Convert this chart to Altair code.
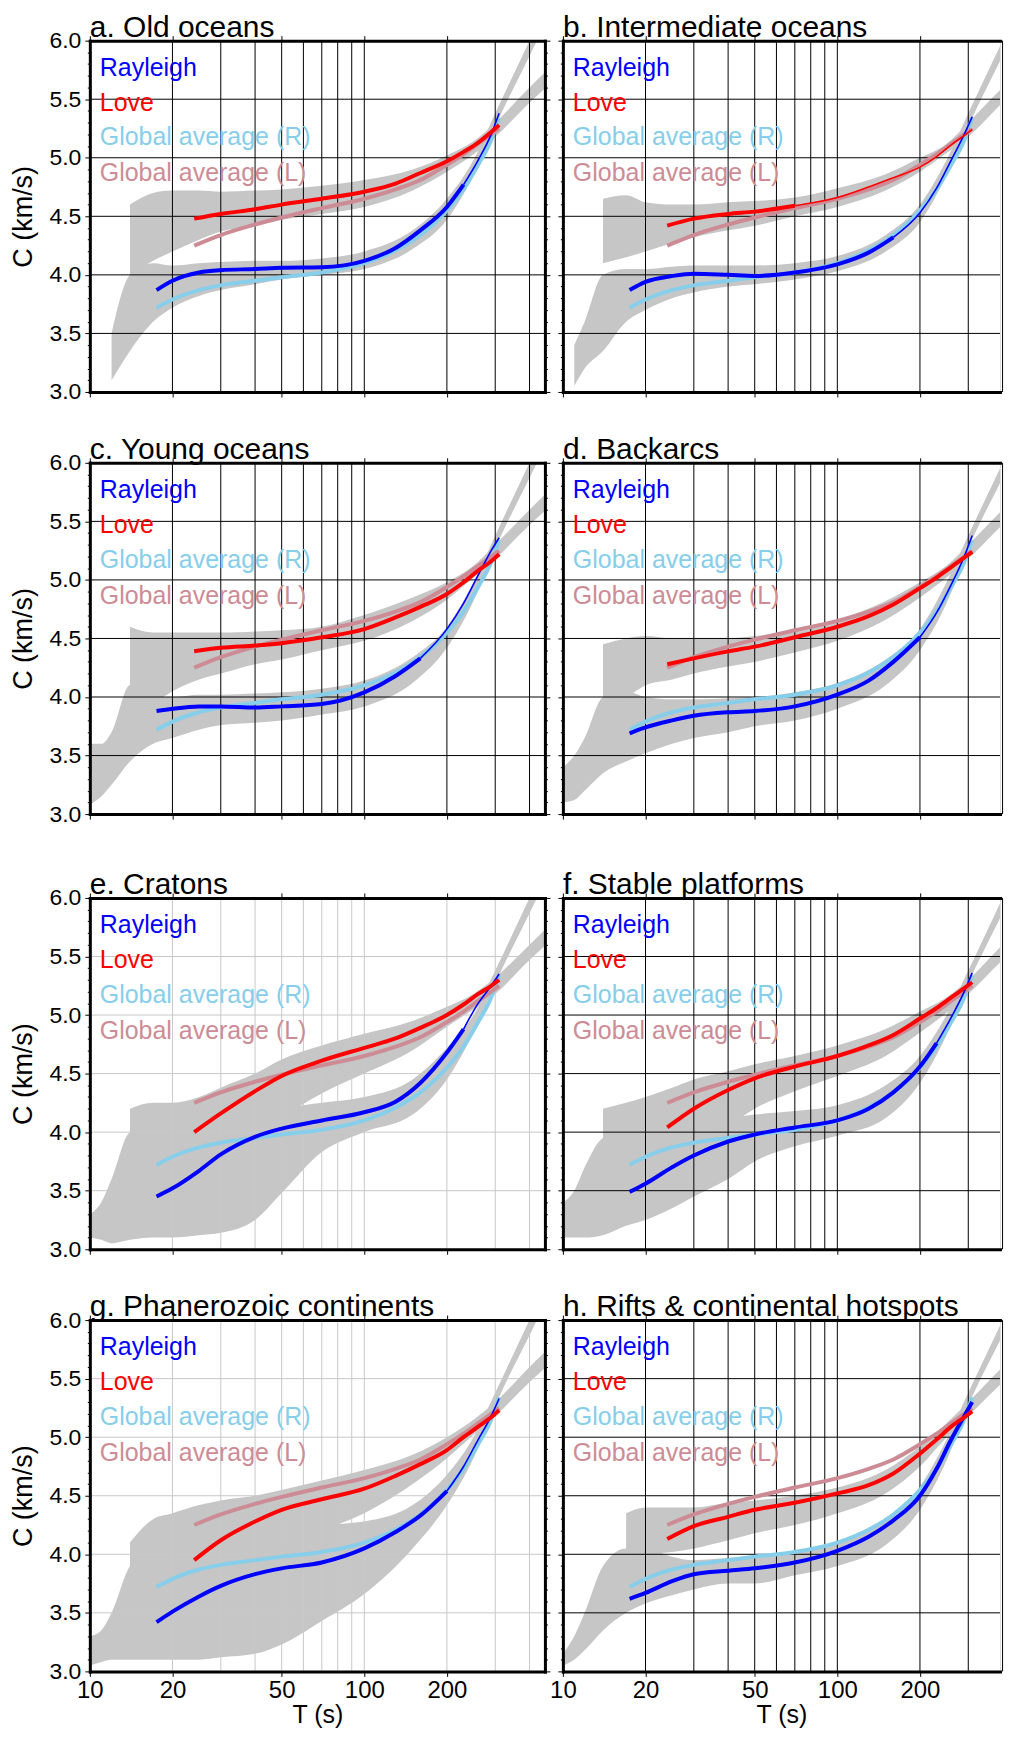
import altair as alt
import pandas as pd

FONT = "Liberation Sans"

TITLES = ["a. Old oceans", "b. Intermediate oceans", "c. Young oceans", "d. Backarcs",
          "e. Cratons", "f. Stable platforms", "g. Phanerozoic continents",
          "h. Rifts & continental hotspots"]
GRID_DARK = [True, True, True, True, False, True, False, True]
# period beyond which the regional curve is drawn thin (None = thick all along)
THIN_FROM_R = [230, 160, 160, 200, 230, 230, 200, None]
THIN_FROM_L = [None, 70, None, None, None, None, None, None]

LEGEND_LABELS = ["Rayleigh", "Love", "Global average (R)", "Global average (L)"]
LEGEND_COLORS = ["#0000ff", "#ff0000", "#87ceeb", "#cd8c95"]

X_TICKS = [10, 20, 50, 100, 200]
X_GRID = [20, 30, 40, 50, 60, 70, 80, 90, 100, 200, 300, 400]
Y_TICKS = [3.0, 3.5, 4.0, 4.5, 5.0, 5.5, 6.0]
Y_MINOR = [3.1, 3.2, 3.3, 3.4, 3.6, 3.7, 3.8, 3.9, 4.1, 4.2, 4.3, 4.4, 4.6, 4.7, 4.8, 4.9,
           5.1, 5.2, 5.3, 5.4, 5.6, 5.7, 5.8, 5.9]
Y_GRID = [3.5, 4.0, 4.5, 5.0, 5.5]

# regional / global dispersion curves
RAY_T = [17.5, 20, 25, 30, 40, 50, 70, 100, 130, 160, 200, 230, 260, 290, 310]
LOVE_T = [24, 30, 40, 50, 70, 100, 130, 160, 200, 230, 260, 290, 310]
GLOBAL_R = [3.72, 3.79, 3.87, 3.91, 3.95, 3.98, 4.02, 4.10, 4.21, 4.34, 4.55, 4.73, 4.94, 5.15, 5.34]
GLOBAL_L = [4.25, 4.34, 4.43, 4.49, 4.57, 4.65, 4.73, 4.81, 4.94, 5.03, 5.12, 5.20, 5.25]

RAY_A = [3.87, 3.95, 4.02, 4.04, 4.05, 4.06, 4.065, 4.12, 4.23, 4.38, 4.58, 4.77, 4.98, 5.20, 5.38]
LOVE_A = [4.48, 4.52, 4.56, 4.60, 4.65, 4.71, 4.78, 4.87, 4.97, 5.05, 5.13, 5.22, 5.28]
RAY_B = [3.87, 3.94, 3.99, 4.01, 4.00, 3.99, 4.02, 4.09, 4.19, 4.32, 4.53, 4.74, 4.98, 5.20, 5.35]
LOVE_B = [4.42, 4.48, 4.52, 4.54, 4.59, 4.66, 4.75, 4.83, 4.92, 5.01, 5.11, 5.19, 5.24]
RAY_C = [3.88, 3.90, 3.92, 3.92, 3.91, 3.92, 3.94, 4.04, 4.18, 4.33, 4.58, 4.80, 5.04, 5.25, 5.36]
LOVE_C = [4.39, 4.42, 4.44, 4.46, 4.51, 4.58, 4.68, 4.77, 4.88, 4.98, 5.08, 5.16, 5.22]
RAY_D = [3.69, 3.74, 3.80, 3.84, 3.87, 3.88, 3.92, 4.02, 4.14, 4.30, 4.51, 4.72, 4.96, 5.20, 5.38]
LOVE_D = [4.28, 4.33, 4.39, 4.43, 4.51, 4.60, 4.69, 4.79, 4.93, 5.02, 5.11, 5.19, 5.24]
RAY_E = [3.45, 3.52, 3.67, 3.81, 3.96, 4.03, 4.10, 4.17, 4.26, 4.42, 4.68, 4.88, 5.10, 5.25, 5.35]
LOVE_E = [4.00, 4.16, 4.35, 4.48, 4.61, 4.72, 4.80, 4.89, 5.00, 5.09, 5.18, 5.25, 5.30]
RAY_F = [3.49, 3.56, 3.70, 3.80, 3.92, 3.98, 4.04, 4.10, 4.20, 4.34, 4.56, 4.76, 4.98, 5.20, 5.36]
LOVE_F = [4.04, 4.20, 4.36, 4.46, 4.56, 4.65, 4.74, 4.83, 4.97, 5.06, 5.15, 5.23, 5.28]
RAY_G = [3.42, 3.51, 3.64, 3.73, 3.83, 3.88, 3.93, 4.05, 4.19, 4.33, 4.54, 4.75, 4.98, 5.18, 5.33]
LOVE_G = [3.95, 4.12, 4.28, 4.38, 4.47, 4.56, 4.67, 4.77, 4.89, 5.00, 5.09, 5.17, 5.23]
RAY_H = [3.62, 3.67, 3.77, 3.83, 3.86, 3.88, 3.93, 4.03, 4.15, 4.29, 4.50, 4.73, 4.98, 5.18, 5.30]
LOVE_H = [4.13, 4.24, 4.32, 4.38, 4.44, 4.52, 4.59, 4.69, 4.86, 4.98, 5.09, 5.17, 5.22]

# envelopes of the grey clouds of individual curves (R = Rayleigh cloud, L = Love cloud)
CLOUD_T = [10, 11, 12, 14, 17, 20, 25, 30, 40, 50, 70, 100, 150, 200, 250, 300, 400, 460]
A_R_LO = [None, None, 3.10, 3.35, 3.60, 3.72, 3.82, 3.87, 3.92, 3.96, 4.00, 4.05, 4.22, 4.47, 4.85, 5.27, 5.87, 6.16]
A_R_HI = [None, None, 3.50, 4.00, 4.10, 4.08, 4.10, 4.11, 4.12, 4.12, 4.14, 4.20, 4.38, 4.65, 4.98, 5.38, 6.00, 6.30]
A_L_LO = [None, None, None, 4.00, 4.12, 4.20, 4.30, 4.37, 4.42, 4.47, 4.52, 4.58, 4.72, 4.88, 5.03, 5.18, 5.47, 5.60]
A_L_HI = [None, None, None, 4.60, 4.70, 4.72, 4.72, 4.71, 4.72, 4.73, 4.76, 4.81, 4.90, 5.02, 5.14, 5.30, 5.60, 5.74]
B_R_LO = [None, 3.05, 3.20, 3.35, 3.60, 3.70, 3.80, 3.85, 3.90, 3.92, 3.96, 4.03, 4.20, 4.45, 4.85, 5.27, 5.87, 6.16]
B_R_HI = [None, 3.40, 3.60, 4.00, 4.05, 4.05, 4.07, 4.08, 4.08, 4.08, 4.10, 4.16, 4.34, 4.60, 4.98, 5.38, 6.00, 6.30]
B_L_LO = [None, None, None, 4.10, 4.15, 4.20, 4.27, 4.32, 4.38, 4.42, 4.50, 4.58, 4.72, 4.88, 5.04, 5.18, 5.47, 5.60]
B_L_HI = [None, None, None, 4.65, 4.68, 4.62, 4.60, 4.60, 4.62, 4.63, 4.66, 4.74, 4.86, 5.00, 5.12, 5.30, 5.60, 5.74]
C_R_LO = [3.08, 3.15, 3.25, 3.45, 3.60, 3.65, 3.72, 3.76, 3.78, 3.80, 3.85, 3.92, 4.12, 4.42, 4.82, 5.27, 5.87, 6.16]
C_R_HI = [3.60, 3.60, 3.70, 4.10, 4.00, 4.00, 4.02, 4.02, 4.03, 4.04, 4.07, 4.14, 4.34, 4.60, 4.98, 5.38, 6.00, 6.30]
C_L_LO = [None, None, None, 3.90, 3.95, 4.05, 4.15, 4.20, 4.28, 4.32, 4.40, 4.48, 4.65, 4.83, 5.02, 5.18, 5.47, 5.60]
C_L_HI = [None, None, None, 4.60, 4.55, 4.55, 4.55, 4.55, 4.56, 4.57, 4.60, 4.70, 4.85, 4.98, 5.12, 5.30, 5.60, 5.74]
D_R_LO = [3.10, 3.12, 3.20, 3.35, 3.45, 3.52, 3.60, 3.65, 3.70, 3.75, 3.80, 3.90, 4.10, 4.40, 4.80, 5.27, 5.87, 6.16]
D_R_HI = [3.40, 3.50, 3.65, 4.00, 4.05, 4.00, 3.98, 3.98, 3.99, 4.00, 4.04, 4.12, 4.32, 4.58, 4.98, 5.38, 6.00, 6.30]
D_L_LO = [None, None, None, 3.95, 4.00, 4.10, 4.15, 4.20, 4.26, 4.30, 4.38, 4.48, 4.66, 4.85, 5.02, 5.18, 5.47, 5.60]
D_L_HI = [None, None, None, 4.45, 4.50, 4.52, 4.50, 4.50, 4.50, 4.52, 4.57, 4.66, 4.82, 4.98, 5.12, 5.30, 5.60, 5.74]
E_R_LO = [3.10, 3.08, 3.05, 3.08, 3.10, 3.10, 3.12, 3.14, 3.25, 3.48, 3.83, 4.00, 4.15, 4.45, 4.85, 5.27, 5.87, 6.16]
E_R_HI = [3.30, 3.40, 3.60, 4.00, 4.05, 4.05, 4.08, 4.10, 4.15, 4.20, 4.25, 4.30, 4.45, 4.72, 5.00, 5.38, 6.00, 6.30]
E_L_LO = [None, None, None, 3.30, 3.35, 3.40, 3.55, 3.70, 3.95, 4.12, 4.33, 4.50, 4.70, 4.90, 5.05, 5.18, 5.47, 5.60]
E_L_HI = [None, None, 3.90, 4.20, 4.25, 4.25, 4.30, 4.38, 4.50, 4.62, 4.74, 4.84, 4.95, 5.07, 5.18, 5.32, 5.60, 5.74]
F_R_LO = [3.10, 3.10, 3.10, 3.12, 3.20, 3.25, 3.35, 3.45, 3.60, 3.75, 3.88, 3.97, 4.12, 4.42, 4.83, 5.27, 5.87, 6.16]
F_R_HI = [3.40, 3.50, 3.70, 3.95, 4.00, 4.02, 4.05, 4.08, 4.12, 4.15, 4.18, 4.23, 4.40, 4.65, 5.00, 5.38, 6.00, 6.30]
F_L_LO = [None, None, None, 3.40, 3.50, 3.60, 3.75, 3.85, 4.05, 4.20, 4.35, 4.48, 4.65, 4.85, 5.02, 5.18, 5.47, 5.60]
F_L_HI = [None, None, None, 4.20, 4.25, 4.30, 4.38, 4.45, 4.52, 4.58, 4.65, 4.74, 4.88, 5.03, 5.15, 5.30, 5.60, 5.74]
G_R_LO = [3.05, 3.08, 3.10, 3.10, 3.10, 3.10, 3.10, 3.12, 3.15, 3.23, 3.43, 3.66, 4.05, 4.42, 4.82, 5.27, 5.87, 6.16]
G_R_HI = [3.30, 3.35, 3.50, 3.90, 4.05, 4.10, 4.15, 4.18, 4.20, 4.22, 4.25, 4.28, 4.42, 4.68, 5.00, 5.38, 6.00, 6.30]
G_L_LO = [None, None, None, 3.40, 3.50, 3.60, 3.70, 3.80, 3.95, 4.05, 4.20, 4.35, 4.60, 4.82, 5.02, 5.18, 5.47, 5.60]
G_L_HI = [None, None, None, 4.10, 4.30, 4.35, 4.42, 4.46, 4.50, 4.55, 4.63, 4.72, 4.85, 5.00, 5.15, 5.30, 5.60, 5.74]
H_R_LO = [3.05, 3.10, 3.18, 3.35, 3.50, 3.58, 3.65, 3.70, 3.75, 3.75, 3.82, 3.90, 4.08, 4.38, 4.80, 5.27, 5.87, 6.16]
H_R_HI = [3.15, 3.30, 3.50, 3.90, 4.05, 4.05, 3.98, 3.95, 3.97, 3.98, 4.02, 4.10, 4.30, 4.58, 4.98, 5.38, 6.00, 6.30]
H_L_LO = [None, None, None, None, 3.90, 4.00, 4.02, 4.05, 4.12, 4.18, 4.25, 4.35, 4.52, 4.75, 5.00, 5.18, 5.47, 5.60]
H_L_HI = [None, None, None, None, 4.35, 4.40, 4.40, 4.40, 4.44, 4.46, 4.50, 4.57, 4.72, 4.92, 5.12, 5.30, 5.60, 5.74]

PANELS = [
    (RAY_A, LOVE_A, A_R_LO, A_R_HI, A_L_LO, A_L_HI),
    (RAY_B, LOVE_B, B_R_LO, B_R_HI, B_L_LO, B_L_HI),
    (RAY_C, LOVE_C, C_R_LO, C_R_HI, C_L_LO, C_L_HI),
    (RAY_D, LOVE_D, D_R_LO, D_R_HI, D_L_LO, D_L_HI),
    (RAY_E, LOVE_E, E_R_LO, E_R_HI, E_L_LO, E_L_HI),
    (RAY_F, LOVE_F, F_R_LO, F_R_HI, F_L_LO, F_L_HI),
    (RAY_G, LOVE_G, G_R_LO, G_R_HI, G_L_LO, G_L_HI),
    (RAY_H, LOVE_H, H_R_LO, H_R_HI, H_L_LO, H_L_HI),
]

LEGEND_Y = [35, 70, 105, 141]
PANEL_H = 352
LEFT_W, RIGHT_W = 456, 438
DECADE_PX = 275.0
X_MAX_LEFT = 10 ** (1 + LEFT_W / DECADE_PX)
X_MAX_RIGHT = 10 ** (1 + RIGHT_W / DECADE_PX)
# layout: invisible extents above / below each row to reproduce the uneven row gaps
ROW_TOP_EXT = [None, 36, 36, 36]
ROW_BOTTOM_EXT = [8, 25, 10, None]
ROW_SPACING = 21


def base_axis(**kw):
    d = dict(tickColor="black", tickWidth=1, labelColor="black", labelFont=FONT,
             titleFont=FONT, titleColor="black", titleFontWeight="normal", grid=False,
             labelFlush=False, labelOverlap=False, zindex=2)
    d.update(kw)
    return alt.Axis(**d)


def make_panel(i):
    ray, love, rlo, rhi, llo, lhi = PANELS[i]
    left = i % 2 == 0
    row = i // 2
    bottom = row == 3
    width = LEFT_W if left else RIGHT_W
    xmax = X_MAX_LEFT if left else X_MAX_RIGHT
    xs = alt.Scale(type="log", domain=[10, xmax], nice=False)
    ys = alt.Scale(domain=[3.0, 6.0], nice=False, zero=False)
    grid_color = "#000000" if GRID_DARK[i] else "#c8c8c8"

    rows = []
    for band, lo, hi in (("R", rlo, rhi), ("L", llo, lhi)):
        for t, a, b in zip(CLOUD_T, lo, hi):
            if a is not None and b is not None:
                rows.append({"T": t, "lo": a, "hi": b, "band": band})
    cloud_df = pd.DataFrame(rows)

    x_bottom = base_axis(orient="bottom", values=X_TICKS, format="d", tickSize=5,
                         labels=bottom, labelFontSize=24, labelPadding=2,
                         domain=True, domainColor="black", domainWidth=3, domainCap="square",
                         titleFontSize=25, titlePadding=0,
                         title=("T (s)" if bottom else None))
    y_left = base_axis(orient="left", values=Y_TICKS, format=".1f", tickSize=5,
                       labels=left, labelFontSize=23, labelPadding=4,
                       domain=True, domainColor="black", domainWidth=3, domainCap="square",
                       titleFontSize=27, titlePadding=11,
                       title=("C (km/s)" if left else None))
    x_top = base_axis(orient="top", values=X_TICKS, tickSize=5, labels=False,
                      domain=True, domainColor="black", domainWidth=3, domainCap="square",
                      title=None)
    y_left_minor = base_axis(orient="left", values=Y_MINOR, tickSize=2.5, labels=False,
                             domain=False, title=None)
    if left:
        y_right = base_axis(orient="right", values=Y_TICKS, tickSize=5, labels=False,
                            domain=True, domainColor="black", domainWidth=3,
                            domainCap="square", title=None)
        y_right_minor = base_axis(orient="right", values=Y_MINOR, tickSize=2.5,
                                  labels=False, domain=False, title=None)
    else:
        y_right = None
        y_right_minor = None

    cloud = alt.Chart(cloud_df).mark_area(
        color="#c6c6c6", clip=True, interpolate="monotone").encode(
        x=alt.X("T:Q", scale=xs, axis=x_bottom),
        y=alt.Y("lo:Q", scale=ys, axis=y_left),
        y2="hi:Q",
        detail="band:N",
    )
    gridx = alt.Chart(pd.DataFrame({"T": X_GRID})).mark_rule(
        color=grid_color, strokeWidth=1).encode(x=alt.X("T:Q", scale=xs, axis=None))
    gridy = alt.Chart(pd.DataFrame({"C": Y_GRID})).mark_rule(
        color=grid_color, strokeWidth=1).encode(y=alt.Y("C:Q", scale=ys, axis=None))

    def curve(ts, vs, color, xaxis, yaxis, width=4):
        return alt.Chart(pd.DataFrame({"T": ts, "C": vs})).mark_line(
            color=color, strokeWidth=width, clip=True, interpolate="monotone").encode(
            x=alt.X("T:Q", scale=xs, axis=xaxis),
            y=alt.Y("C:Q", scale=ys, axis=yaxis))

    def regional(ts, vs, color, thin_from, yaxis):
        if thin_from is None:
            return [curve(ts, vs, color, None, yaxis)]
        t_thick = [t for t in ts if t <= thin_from]
        v_thick = [v for t, v in zip(ts, vs) if t <= thin_from]
        t_thin = [t for t in ts if t >= thin_from]
        v_thin = [v for t, v in zip(ts, vs) if t >= thin_from]
        return [curve(t_thick, v_thick, color, None, yaxis),
                curve(t_thin, v_thin, color, None, None, width=1.6)]

    g_r = curve(RAY_T, GLOBAL_R, LEGEND_COLORS[2], x_top, y_right)
    g_l = curve(LOVE_T, GLOBAL_L, LEGEND_COLORS[3], None, y_left_minor)
    r_r = regional(RAY_T, ray, LEGEND_COLORS[0], THIN_FROM_R[i], y_right_minor)
    r_l = regional(LOVE_T, love, LEGEND_COLORS[1], THIN_FROM_L[i], None)

    texts = []
    for lab, col, yy in zip(LEGEND_LABELS, LEGEND_COLORS, LEGEND_Y):
        texts.append(alt.Chart(pd.DataFrame({"label": [lab]})).mark_text(
            align="left", baseline="alphabetic", font=FONT, fontSize=25, color=col).encode(
            x=alt.value(10), y=alt.value(yy), text="label:N"))
    ttl = alt.Chart(pd.DataFrame({"label": [TITLES[i]]})).mark_text(
        align="left", baseline="alphabetic", font=FONT, fontSize=30, color="black").encode(
        x=alt.value(0), y=alt.value(-4), text="label:N")

    # invisible spacers that only shape the layout box of the row
    spacers = []
    one = pd.DataFrame({"k": [0]})
    if ROW_TOP_EXT[row] is not None:
        spacers.append(alt.Chart(one).mark_rule(opacity=0, strokeWidth=1).encode(
            y=alt.value(-ROW_TOP_EXT[row])))
    if ROW_BOTTOM_EXT[row] is not None:
        spacers.append(alt.Chart(one).mark_rule(opacity=0, strokeWidth=1).encode(
            y=alt.value(PANEL_H + ROW_BOTTOM_EXT[row])))

    return alt.layer(cloud, gridx, gridy, g_r, g_l, *r_r, *r_l, *texts, ttl,
                     *spacers).resolve_axis(
        x="independent", y="independent").properties(width=width, height=PANEL_H)


panels = [make_panel(i) for i in range(8)]
rows = [alt.hconcat(panels[2 * r], panels[2 * r + 1], spacing=18, bounds="flush")
        for r in range(4)]
chart = alt.vconcat(*rows, spacing=ROW_SPACING, bounds="full")
chart = chart.properties(
    padding={"left": 1, "top": 2, "right": 0, "bottom": 0},
    background="white",
).configure_view(strokeWidth=0).configure(font=FONT)

chart.save("out.html", embed_options={"renderer": "svg", "actions": False})
